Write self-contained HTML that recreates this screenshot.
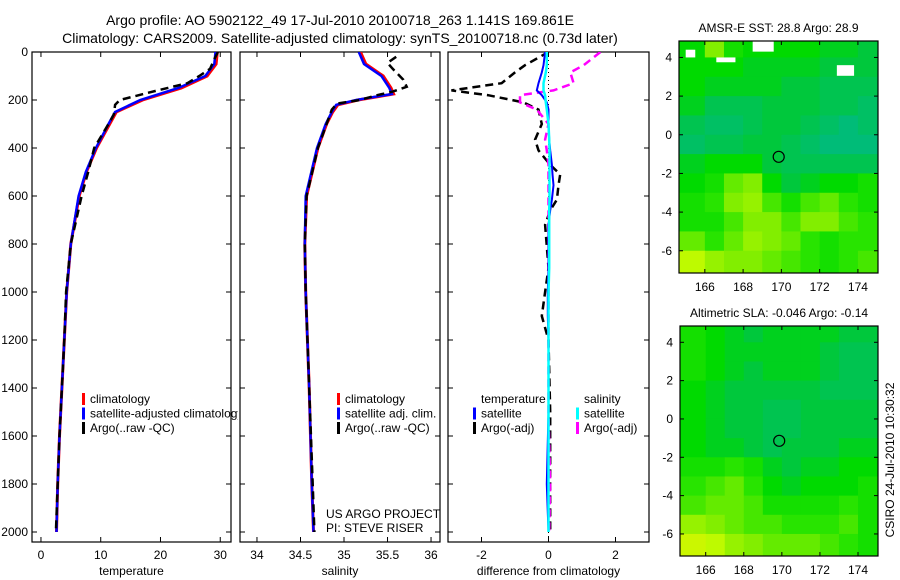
<!DOCTYPE html>
<html><head><meta charset="utf-8"><style>
body{margin:0;background:#fff;}
svg{display:block;font-family:"Liberation Sans",sans-serif;}
</style></head><body>
<svg id="fig" width="900" height="580" viewBox="0 0 900 580">
<text x="340" y="25" font-size="14" text-anchor="middle">Argo profile: AO 5902122_49 17-Jul-2010 20100718_263 1.141S 169.861E</text>
<text x="340" y="43" font-size="14" text-anchor="middle">Climatology: CARS2009. Satellite-adjusted climatology: synTS_20100718.nc (0.73d later)</text>
<g id="plots"></g>
<text transform="translate(894,460) rotate(-90)" font-size="12" text-anchor="middle">CSIRO 24-Jul-2010 10:30:32</text>
</svg>
<script>
// ---- profile data ----
const tDepth = [0,50,100,150,200,250,300,400,500,600,800,1000,1200,1400,1600,1800,2000];
const tClim  = [29.5,29.3,27.8,23.5,17.0,12.6,11.5,9.3,7.6,6.4,5.0,4.3,3.9,3.5,3.1,2.8,2.6];
const tSat   = [29.2,29.0,27.5,23.0,16.6,12.4,11.3,9.2,7.5,6.3,5.0,4.3,3.9,3.5,3.1,2.8,2.6];
const aDepth = [0,30,70,100,130,160,200,220,260,300,400,500,600,800,1000,1200,1400,1600,1800,2000];
const tArgo  = [29.6,29.0,28.3,26.5,24.5,19.5,13.2,12.4,12.2,11.3,8.9,7.9,6.8,5.0,4.2,3.9,3.5,3.1,2.8,2.5];
const sDepth = [0,50,100,150,175,200,220,250,300,400,600,800,1000,1400,1800,2000];
const sClim  = [35.19,35.25,35.45,35.54,35.57,35.16,34.93,34.87,34.8,34.7,34.57,34.55,34.56,34.6,34.63,34.65];
const sSat   = [35.17,35.23,35.43,35.52,35.55,35.14,34.91,34.86,34.79,34.69,34.56,34.55,34.56,34.6,34.63,34.65];
const sArgoD = [20,45,70,115,145,165,180,200,215,240,300,400,600,800,1000,1400,1800,2000];
const sArgo  = [35.6,35.5,35.56,35.68,35.72,35.56,35.38,35.18,34.92,34.86,34.8,34.7,34.57,34.55,34.56,34.6,34.64,34.66];
// differences
const dDepth = [0,55,85,130,160,180,210,240,300,365,410,470,510,555,615,660,720,900,1000,1100,1200,1500,1800,2000];
const dTsat  = [-0.1,-0.15,-0.2,-0.3,-0.35,-0.2,-0.05,0,0,0.02,0.05,0.1,0.12,0.15,0.1,0.05,0,0,-0.02,-0.02,0,0,-0.05,0];
const dTargo = [0,-0.7,-1.0,-1.4,-2.9,-1.8,-0.75,-0.3,-0.2,-0.4,-0.3,0.05,0.35,0.3,0.25,0.05,-0.1,0,-0.1,-0.2,0,0.05,0.05,0.05];
const dSsat  = [-0.05,-0.05,-0.08,-0.15,-0.15,-0.1,-0.08,-0.05,0,0.02,0.03,0.03,0.03,0.03,0.03,0.02,0.02,0.02,0,0,0,0,0,0];
const dSargo = [1.55,1.05,0.65,0.75,0.15,-0.85,-0.85,-0.35,0,-0.1,-0.05,0,0,0,0,0,0,0,0,0,0,0,0.05,0.02];
const depthTicks = [0,200,400,600,800,1000,1200,1400,1600,1800,2000];
const tTicks = [0,10,20,30];
const sTicks = [34,34.5,35,35.5,36];
const dTicks = [-2,0,2];
// ---- map data (1-degree cells, lon 165..175, lat rows from 4.5 to -6.5) ----
const mapLats = [4.5,3.5,2.5,1.5,0.5,-0.5,-1.5,-2.5,-3.5,-4.5,-5.5,-6.5];
const mapLons = [165.5,166.5,167.5,168.5,169.5,170.5,171.5,172.5,173.5,174.5];
const sstGrid = [
[0.45,0.7,0.5,0.45,0.45,0.45,0.45,0.4,0.4,0.35],
[0.45,0.45,0.45,0.4,0.4,0.4,0.4,0.35,0.35,0.35],
[0.45,0.4,0.4,0.4,0.4,0.35,0.35,0.3,0.3,0.3],
[0.4,0.3,0.3,0.3,0.35,0.35,0.35,0.3,0.3,0.25],
[0.3,0.25,0.25,0.3,0.35,0.35,0.3,0.25,0.2,0.25],
[0.25,0.3,0.3,0.35,0.35,0.3,0.25,0.2,0.2,0.2],
[0.4,0.45,0.45,0.45,0.35,0.3,0.3,0.3,0.3,0.3],
[0.45,0.5,0.65,0.7,0.45,0.35,0.4,0.45,0.45,0.5],
[0.5,0.55,0.7,0.75,0.6,0.5,0.6,0.65,0.55,0.5],
[0.5,0.5,0.6,0.7,0.7,0.6,0.7,0.7,0.6,0.55],
[0.65,0.55,0.65,0.75,0.7,0.65,0.55,0.5,0.55,0.55],
[0.85,0.75,0.7,0.7,0.65,0.6,0.55,0.5,0.55,0.6]];
const slaGrid = [
[0.5,0.45,0.4,0.35,0.4,0.4,0.4,0.4,0.35,0.35],
[0.5,0.45,0.4,0.4,0.4,0.4,0.4,0.35,0.3,0.3],
[0.5,0.45,0.4,0.35,0.4,0.4,0.4,0.35,0.3,0.3],
[0.45,0.4,0.35,0.35,0.35,0.35,0.35,0.3,0.3,0.3],
[0.45,0.4,0.35,0.35,0.3,0.3,0.35,0.35,0.35,0.35],
[0.45,0.4,0.35,0.35,0.3,0.3,0.35,0.35,0.35,0.35],
[0.45,0.4,0.4,0.35,0.3,0.35,0.35,0.35,0.4,0.4],
[0.5,0.5,0.55,0.5,0.4,0.35,0.4,0.4,0.45,0.45],
[0.55,0.6,0.65,0.55,0.45,0.4,0.45,0.45,0.45,0.5],
[0.6,0.65,0.65,0.6,0.5,0.5,0.5,0.5,0.55,0.5],
[0.75,0.7,0.65,0.6,0.6,0.55,0.55,0.55,0.6,0.5],
[0.9,0.85,0.75,0.7,0.65,0.65,0.65,0.6,0.55,0.5]];
const noData = [[168.5,169.6,4.85,4.3],[165,165.5,4.4,4.0],[166.6,167.6,4.0,3.75],[172.9,173.8,3.6,3.05]];
const lonTicks = [166,168,170,172,174];
const latTicks = [4,2,0,-2,-4,-6];
const argoLon = 169.861, argoLat = -1.141;

const NS='http://www.w3.org/2000/svg';
const root=document.getElementById('plots');
function mk(tag,attrs,parent){const e=document.createElementNS(NS,tag);for(const k in attrs)e.setAttribute(k,attrs[k]);(parent||root).appendChild(e);return e;}

const Y0=52,Y1=542,DMAX=(Y1-Y0)/0.24;
const yD=d=>Y0+d*0.24;
function panel(name,x0,x1,vmin,vmax){return {name,x0,x1,x:v=>x0+(v-vmin)/(vmax-vmin)*(x1-x0)};}
const P1=panel('temperature',32,231,-1.5,31.8);
const P2=panel('salinity',240,440,33.805,36.103);
const P3=panel('difference',448,649,-3,3);

function line(p,vals,depths,color,w,dash,name){
  const pts=vals.map((v,i)=>p.x(v).toFixed(1)+','+yD(depths[i]).toFixed(1)).join(' ');
  const e=mk('polyline',{points:pts,fill:'none',stroke:color,'stroke-width':w,'clip-path':'url(#clip-'+p.name+')'});
  if(dash)e.setAttribute('stroke-dasharray',dash);
  
  
}
function axes(p,ticks,fmt,label,showY){
  const cp=mk('clipPath',{id:'clip-'+p.name});mk('rect',{x:p.x0,y:Y0,width:p.x1-p.x0,height:Y1-Y0},cp);
  const fr=mk('rect',{x:p.x0,y:Y0,width:p.x1-p.x0,height:Y1-Y0,fill:'none',stroke:'#000','stroke-width':1.2});
  
  
  ticks.forEach(t=>{const x=p.x(t);
    mk('line',{x1:x,x2:x,y1:Y1,y2:Y1-5,stroke:'#000'});mk('line',{x1:x,x2:x,y1:Y0,y2:Y0+5,stroke:'#000'});
    const tx=mk('text',{x:x,y:Y1+17,'font-size':12,'text-anchor':'middle'});tx.textContent=fmt(t);
    
    });
  depthTicks.forEach(d=>{const y=yD(d);
    mk('line',{x1:p.x0,x2:p.x0+5,y1:y,y2:y,stroke:'#000'});mk('line',{x1:p.x1,x2:p.x1-5,y1:y,y2:y,stroke:'#000'});
    if(showY){const tx=mk('text',{x:p.x0-4,y:y+4,'font-size':12,'text-anchor':'end'});tx.textContent=d;
      
      }});
  const xl=mk('text',{x:(p.x0+p.x1)/2,y:Y1+33,'font-size':12,'text-anchor':'middle'});xl.textContent=label;
  
  
}
axes(P1,tTicks,String,'temperature',true);
axes(P2,sTicks,String,'salinity',false);
axes(P3,dTicks,String,'difference from climatology',false);

line(P1,tClim,tDepth,'#f00',3,null,'temp-climatology-line');
line(P1,tSat,tDepth,'#00f',2.5,null,'temp-satellite-line');
line(P1,tArgo,aDepth,'#000',2.5,'8 5','temp-argo-line');
line(P2,sClim,sDepth,'#f00',3,null,'sal-climatology-line');
line(P2,sSat,sDepth,'#00f',2.5,null,'sal-satellite-line');
line(P2,sArgo,sArgoD,'#000',2.5,'8 5','sal-argo-line');
const zl=mk('line',{x1:P3.x(0),x2:P3.x(0),y1:Y0,y2:Y1,stroke:'#000','stroke-dasharray':'1 3'});


line(P3,dTargo,dDepth,'#000',2.5,'8 5','temp-diff-argo-line');
line(P3,dSargo,dDepth,'#f0f',2.5,'8 5','sal-diff-argo-line');
line(P3,dTsat,dDepth,'#00f',2,null,'temp-diff-satellite-line');
line(P3,dSsat,dDepth,'#0ff',2.5,null,'sal-diff-satellite-line');

function legend(x,y,items,clipName){
  items.forEach((it,i)=>{const yy=y+i*14.5;
    if(it[0]){const m=mk('rect',{x:x,y:yy-10,width:3,height:12,fill:it[0]});
      
      }
    const t=mk('text',{x:x+8,y:yy,'font-size':12});t.textContent=it[1];
    if(clipName)t.setAttribute('clip-path','url(#'+clipName+')');
    
    });
}
const lc=mk('clipPath',{id:'legclip'});mk('rect',{x:0,y:0,width:238,height:580},lc);
legend(82,403,[['#f00','climatology'],['#00f','satellite-adjusted climatology'],['#000','Argo(..raw -QC)']],'legclip');
legend(337,403,[['#f00','climatology'],['#00f','satellite adj. clim.'],['#000','Argo(..raw -QC)']]);
legend(473,403,[[null,'temperature'],['#00f','satellite'],['#000','Argo(-adj)']]);
legend(576,403,[[null,'salinity'],['#0ff','satellite'],['#f0f','Argo(-adj)']]);
[['US ARGO PROJECT',518],['PI: STEVE RISER',532]].forEach(a=>{const t=mk('text',{x:326,y:a[1],'font-size':12});t.textContent=a[0];
  
  });

// ---- maps ----
const stops=[[0,[0,180,140]],[0.2,[0,188,120]],[0.35,[0,200,60]],[0.45,[0,218,0]],[0.55,[40,228,0]],[0.7,[130,238,0]],[0.85,[190,250,0]],[1,[230,240,0]]];
function cmap(v){for(let i=1;i<stops.length;i++){if(v<=stops[i][0]){const a=stops[i-1],b=stops[i],f=(v-a[0])/(b[0]-a[0]);
  return 'rgb('+a[1].map((c,k)=>Math.round(c+(b[1][k]-c)*f)).join(',')+')';}}return 'rgb(230,240,0)';}
function drawMap(mx0,mx1,my0,my1,grid,title,name,holes){
  const lon=v=>mx0+(v-164.65)/(175.05-164.65)*(mx1-mx0);
  const lat=v=>my0+(4.85-v)/(4.85+7.15)*(my1-my0);
  const cp=mk('clipPath',{id:'clip-'+name});mk('rect',{x:mx0,y:my0,width:mx1-mx0,height:my1-my0},cp);
  const g=mk('g',{'clip-path':'url(#clip-'+name+')'});
  
  
  grid.forEach((row,r)=>row.forEach((v,c)=>{
    const x0=lon(mapLons[c]-0.5),x1=lon(mapLons[c]+0.5),y0=lat(mapLats[r]+0.5),y1=lat(mapLats[r]-0.5);
    const cell=mk('rect',{x:x0-(c==0?20:0),y:y0-(r==0?20:0),width:x1-x0+(c==0?20:0)+(c==row.length-1?20:0)+0.5,height:y1-y0+(r==0?20:0)+(r==grid.length-1?20:0)+0.5,fill:cmap(v)},g);
    
    }));
  holes.forEach(h=>{const e=mk('rect',{x:lon(h[0]),y:lat(h[2]),width:lon(h[1])-lon(h[0]),height:lat(h[3])-lat(h[2]),fill:'#fff'},g);
    
    });
  const c=mk('circle',{cx:lon(argoLon),cy:lat(argoLat),r:5.5,fill:'none',stroke:'#000','stroke-width':1.2});
  
  
  const fr=mk('rect',{x:mx0,y:my0,width:mx1-mx0,height:my1-my0,fill:'none',stroke:'#000','stroke-width':1.2});
  
  
  lonTicks.forEach(t=>{const x=lon(t);mk('line',{x1:x,x2:x,y1:my1,y2:my1-4,stroke:'#000'});mk('line',{x1:x,x2:x,y1:my0,y2:my0+4,stroke:'#000'});
    const tx=mk('text',{x:x,y:my1+18,'font-size':12,'text-anchor':'middle'});tx.textContent=t;
    
    });
  latTicks.forEach(t=>{const y=lat(t);mk('line',{x1:mx0,x2:mx0+4,y1:y,y2:y,stroke:'#000'});mk('line',{x1:mx1,x2:mx1-4,y1:y,y2:y,stroke:'#000'});
    const tx=mk('text',{x:mx0-7,y:y+4,'font-size':12,'text-anchor':'end'});tx.textContent=t;
    
    });
  const tt=mk('text',{x:(mx0+mx1)/2,y:my0-9,'font-size':12,'text-anchor':'middle'});tt.textContent=title;
  
  
}
drawMap(679,878,41,273,sstGrid,'AMSR-E SST: 28.8 Argo: 28.9','sst-map',noData);
drawMap(680,878,326,556,slaGrid,'Altimetric SLA: -0.046 Argo: -0.14','sla-map',[]);
</script>
</body></html>
